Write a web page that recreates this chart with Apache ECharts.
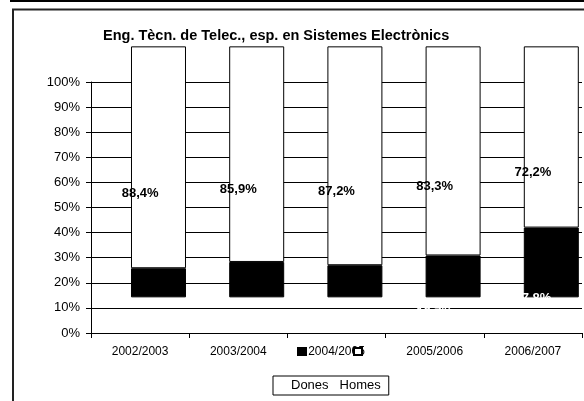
<!DOCTYPE html>
<html>
<head>
<meta charset="utf-8">
<script src="https://cdn.jsdelivr.net/npm/echarts@6/dist/echarts.min.js"></script>
<style>
html,body{margin:0;padding:0;background:#fff;}
#chart{width:584px;height:401px;}
</style>
</head>
<body>
<div id="chart"></div>
<script>
// ---- data ----
const titleText = 'Eng. Tècn. de Telec., esp. en Sistemes Electrònics';
const categories = ['2002/2003', '2003/2004', '2004/2005', '2005/2006', '2006/2007'];
const homes = [88.4, 85.9, 87.2, 83.3, 72.2];
const dones = [11.6, 14.1, 12.8, 16.7, 27.8];
// the drawn bars in the original sit displaced above the axis by this amount
const displacement = [14.2, 14.2, 14.2, 14.2, 14.2];
const legendNames = ['Dones', 'Homes'];

const fmt = p => p.value.toFixed(1).replace('.', ',') + '%';
const FONT = 'Liberation Sans, Arial, sans-serif';

const chart = echarts.init(document.getElementById('chart'), null, {renderer: 'canvas'});
const lblCommon = {
  type: 'bar', stack: 'lbl', barWidth: 55, barGap: '-33.1%', z: 5, silent: true,
  itemStyle: {color: 'rgba(0,0,0,0)', borderWidth: 0}
};
const visCommon = {
  type: 'bar', stack: 'vis', barWidth: 55, barGap: '-33.1%', z: 2, clip: false, silent: true
};
chart.setOption({
  animation: false,
  title: {
    text: titleText, left: 103, top: 28, padding: 0,
    textStyle: {fontFamily: FONT, fontSize: 14.5, fontWeight: 'bold', color: '#000'}
  },
  grid: {left: 91, right: 2, top: 82, bottom: 68, containLabel: false},
  legend: [
    {
      data: legendNames.map(n => ({name: n, icon: 'rect'})), left: 297, top: 347, padding: 0, itemGap: 46,
      itemWidth: 8, itemHeight: 7, selectedMode: false, formatter: () => '',
      textStyle: {fontSize: 1}
    },
    {
      data: legendNames.map(n => ({name: n, icon: 'none'})), left: 273, top: 376,
      padding: [3, 8, 3, 13], itemGap: 6, itemWidth: 0, itemHeight: 0, selectedMode: false,
      borderColor: '#000', borderWidth: 1, borderRadius: 0,
      textStyle: {fontFamily: FONT, fontSize: 13, color: '#000'}
    }
  ],
  xAxis: {
    type: 'category', data: categories, boundaryGap: true,
    axisLine: {lineStyle: {color: '#000', width: 1}},
    axisTick: {show: true, length: 5, alignWithLabel: false, lineStyle: {color: '#000'}},
    axisLabel: {fontFamily: FONT, fontSize: 12, color: '#000', margin: 13}
  },
  yAxis: {
    type: 'value', min: 0, max: 100, interval: 10,
    axisLine: {show: true, lineStyle: {color: '#000', width: 1}},
    axisTick: {show: true, length: 5, lineStyle: {color: '#000'}},
    axisLabel: {fontFamily: FONT, fontSize: 13, color: '#000', margin: 11, formatter: '{value}%'},
    splitLine: {show: true, lineStyle: {color: '#000', width: 1}}
  },
  graphic: [
    {type: 'rect', shape: {x: 10, y: 0, width: 600, height: 2}, style: {fill: '#000'}, z: 100},
    {type: 'rect', shape: {x: 13, y: 9.5, width: 600, height: 420}, style: {fill: 'none', stroke: '#222', lineWidth: 2}, z: 100}
  ],
  series: [
    Object.assign({}, lblCommon, {
      name: 'DonesL', data: dones,
      label: {show: true, position: 'inside', offset: [18.4, 0], formatter: fmt,
        fontFamily: FONT, fontSize: 13, fontWeight: 'bold', color: '#fff'}
    }),
    Object.assign({}, lblCommon, {
      name: 'HomesL', data: homes,
      label: {show: true, position: 'inside', offset: [18.4, 0], formatter: fmt,
        fontFamily: FONT, fontSize: 13, fontWeight: 'bold', color: '#000'}
    }),
    Object.assign({}, visCommon, {
      name: 'shift', data: displacement, itemStyle: {color: 'rgba(0,0,0,0)', borderWidth: 0}
    }),
    Object.assign({}, visCommon, {
      name: 'Dones', data: dones, itemStyle: {color: '#000', borderColor: '#000', borderWidth: 1}
    }),
    Object.assign({}, visCommon, {
      name: 'Homes', data: homes, itemStyle: {color: '#fff', borderColor: '#000', borderWidth: 1}
    })
  ]
});
</script>
</body>
</html>
